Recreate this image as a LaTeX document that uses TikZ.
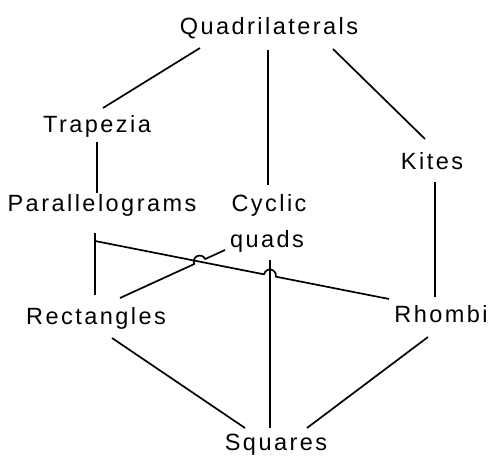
\documentclass[tikz,border=0pt]{standalone}
\usepackage{fontspec}
\setmainfont{Liberation Sans}[LetterSpace=10.5]
\usetikzlibrary{calc}
\begin{document}
\begin{tikzpicture}[x=1pt,y=1pt,
  lbl/.style={anchor=base,inner sep=0pt,font=\fontsize{23.5}{28}\selectfont},
  conn/.style={line width=1.7pt,black,line join=round}]
\useasboundingbox (0,0) rectangle (489,457);
% nodes (x = centre, y = baseline)
\node[lbl] (quad)  at (269,422) {Quadrilaterals};
\node[lbl] (trap)  at (97,324)  {Trapezia};
\node[lbl] (kite)  at (432,287) {Kites};
\node[lbl] (para)  at (102,245) {Parallelograms};
\node[lbl] (cyc)   at (269,245) {Cyclic};
\node[lbl] (quads) at (267,209) {quads};
\node[lbl] (rect)  at (96,132)  {Rectangles};
\node[lbl] (rhom)  at (441,134) {Rhombi};
\node[lbl] (squa)  at (276,6)   {Squares};
% connectors
\draw[conn] ([shift={(-69,-13)}]quad.base) -- ([shift={(6,25)}]trap.base);
\draw[conn] ([shift={(-1,-15)}]quad.base)  -- ([shift={(-1,27)}]cyc.base);
\draw[conn] ([shift={(64,-14)}]quad.base)  -- ([shift={(-7,31)}]kite.base);
\draw[conn] ([shift={(0,-9)}]trap.base)    -- ([shift={(-5,19)}]para.base);
\draw[conn] ([shift={(3,-12)}]kite.base)   -- ([shift={(-6,26)}]rhom.base);
\draw[conn] ([shift={(-7,-21)}]para.base)  -- ([shift={(-1,30)}]rect.base);
\draw[conn] ([shift={(3,-12)}]quads.base)  -- ([shift={(-6,23)}]squa.base);
\draw[conn] ([shift={(16,-13)}]rect.base)  -- ([shift={(-31,23)}]squa.base);
\draw[conn] ([shift={(-13,-14)}]rhom.base) -- ([shift={(31,23)}]squa.base);
% connectors with hops
\coordinate (pA) at ([shift={(-7,-29)}]para.base);
\coordinate (pB) at ([shift={(-52,24)}]rhom.base);
\draw[conn] (pA) -- ($(pA)!0.575!(pB)$) arc[start angle=168.8,end angle=-11.2,radius=6] -- (pB);
\coordinate (rA) at ([shift={(24,27)}]rect.base);
\coordinate (rB) at ([shift={(-42,-2)}]quads.base);
\draw[conn] (rA) -- ($(rA)!0.707!(rB)$) arc[start angle=204.6,end angle=24.6,radius=6] -- (rB);
\end{tikzpicture}
\end{document}
